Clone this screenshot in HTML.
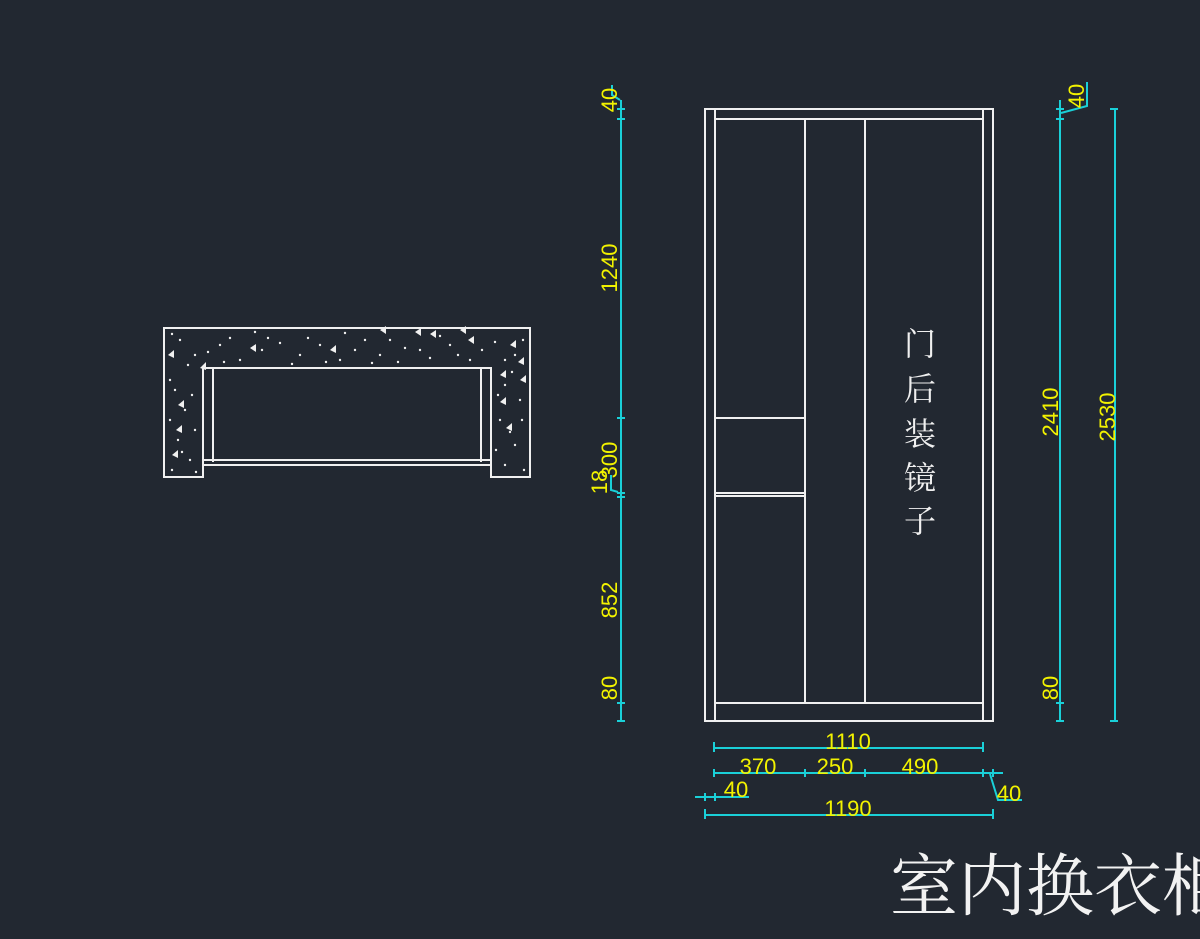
<!DOCTYPE html>
<html><head><meta charset="utf-8"><style>
html,body{margin:0;padding:0;background:#222831;overflow:hidden}
svg{display:block}
.w{stroke:#f0f0f0;stroke-width:2;fill:none}
.c{stroke:#1ad0d8;stroke-width:2;fill:none}
.t{fill:#f2f200;font-family:"Liberation Sans",sans-serif;font-size:22px}
</style></head><body>
<svg width="1200" height="939" viewBox="0 0 1200 939" xmlns="http://www.w3.org/2000/svg">
<rect width="1200" height="939" fill="#222831"/>
<!-- plan view -->
<path class="w" d="M164,328 H530 V477 H491 V368 H203 V477 H164 Z"/>
<path class="w" d="M213,368 V462 M481,368 V462 M203,460 H491 M203,465 H491"/>
<g fill="#f0f0f0">
<circle cx="180" cy="340" r="1.2"/><circle cx="195" cy="355" r="1.2"/><circle cx="220" cy="345" r="1.2"/><circle cx="240" cy="360" r="1.2"/><circle cx="262" cy="350" r="1.2"/><circle cx="280" cy="343" r="1.2"/><circle cx="300" cy="355" r="1.2"/><circle cx="320" cy="345" r="1.2"/><circle cx="340" cy="360" r="1.2"/><circle cx="365" cy="340" r="1.2"/><circle cx="380" cy="355" r="1.2"/><circle cx="405" cy="348" r="1.2"/><circle cx="430" cy="358" r="1.2"/><circle cx="450" cy="345" r="1.2"/><circle cx="470" cy="360" r="1.2"/><circle cx="495" cy="342" r="1.2"/><circle cx="515" cy="355" r="1.2"/><circle cx="175" cy="390" r="1.2"/><circle cx="185" cy="410" r="1.2"/><circle cx="178" cy="440" r="1.2"/><circle cx="190" cy="460" r="1.2"/><circle cx="172" cy="470" r="1.2"/><circle cx="505" cy="385" r="1.2"/><circle cx="520" cy="400" r="1.2"/><circle cx="500" cy="420" r="1.2"/><circle cx="515" cy="445" r="1.2"/><circle cx="505" cy="465" r="1.2"/><circle cx="255" cy="332" r="1.2"/><circle cx="345" cy="333" r="1.2"/><circle cx="230" cy="338" r="1.2"/>
<circle cx="172" cy="334" r="1.2"/><circle cx="188" cy="365" r="1.2"/><circle cx="208" cy="352" r="1.2"/><circle cx="224" cy="362" r="1.2"/><circle cx="268" cy="338" r="1.2"/><circle cx="292" cy="364" r="1.2"/><circle cx="308" cy="338" r="1.2"/><circle cx="326" cy="362" r="1.2"/><circle cx="355" cy="350" r="1.2"/><circle cx="372" cy="363" r="1.2"/><circle cx="390" cy="340" r="1.2"/><circle cx="398" cy="362" r="1.2"/><circle cx="420" cy="350" r="1.2"/><circle cx="440" cy="336" r="1.2"/><circle cx="458" cy="355" r="1.2"/><circle cx="482" cy="350" r="1.2"/><circle cx="505" cy="360" r="1.2"/><circle cx="523" cy="340" r="1.2"/><circle cx="170" cy="380" r="1.2"/><circle cx="192" cy="395" r="1.2"/><circle cx="170" cy="420" r="1.2"/><circle cx="195" cy="430" r="1.2"/><circle cx="182" cy="452" r="1.2"/><circle cx="196" cy="472" r="1.2"/><circle cx="498" cy="395" r="1.2"/><circle cx="522" cy="420" r="1.2"/><circle cx="510" cy="432" r="1.2"/><circle cx="496" cy="450" r="1.2"/><circle cx="524" cy="470" r="1.2"/><circle cx="512" cy="372" r="1.2"/>
<polygon points="168,355 174,350 174,358"/><polygon points="250,348 256,344 256,352"/><polygon points="330,350 336,345 336,353"/><polygon points="415,332 421,328 421,336"/><polygon points="468,340 474,336 474,344"/><polygon points="510,345 516,340 516,348"/><polygon points="178,405 184,400 184,408"/><polygon points="172,455 178,450 178,458"/><polygon points="500,402 506,397 506,405"/><polygon points="520,380 526,375 526,383"/><polygon points="500,375 506,370 506,378"/>
<polygon points="200,368 206,362 206,370"/><polygon points="380,330 386,326 386,334"/><polygon points="430,334 436,330 436,338"/><polygon points="460,330 466,326 466,334"/><polygon points="176,430 182,425 182,433"/><polygon points="518,362 524,357 524,365"/><polygon points="506,428 512,423 512,431"/>
</g>
<!-- elevation -->
<path class="w" d="M705,109 H993 V721 H705 Z M715,109 V721 M983,109 V721 M715,119 H983 M715,703 H983 M805,119 V703 M865,119 V703 M715,418 H805 M715,493 H805 M715,496 H805"/>
<g fill="#f0f0f0" font-family="'Liberation Serif','Noto Serif CJK SC',serif" font-size="32" text-anchor="middle">
<text x="920" y="355">门</text><text x="920" y="400">后</text><text x="920" y="445">装</text><text x="920" y="489">镜</text><text x="920" y="532">子</text>
</g>
<!-- left vertical dims -->
<path class="c" d="M621,100 V721 M617,109 H625 M617,119 H625 M617,418 H625 M617,493 H625 M617,497 H625 M617,703 H625 M617,721 H625 M612,85 V95 L620,100 M611,475 L611,490 L618,492"/>
<g class="t" text-anchor="middle">
<text transform="translate(617,100) rotate(-90)">40</text>
<text transform="translate(617,268) rotate(-90)">1240</text>
<text transform="translate(617,460) rotate(-90)">300</text>
<text transform="translate(607,482) rotate(-90)">18</text>
<text transform="translate(617,600) rotate(-90)">852</text>
<text transform="translate(617,688) rotate(-90)">80</text>
</g>
<!-- right vertical dims -->
<path class="c" d="M1060,100 V721 M1056,109 H1064 M1056,119 H1064 M1056,703 H1064 M1056,721 H1064 M1061,113 L1087,106 V82 M1115,109 V721 M1110,109 H1118 M1110,721 H1118"/>
<g class="t" text-anchor="middle">
<text transform="translate(1084,96) rotate(-90)">40</text>
<text transform="translate(1058,412) rotate(-90)">2410</text>
<text transform="translate(1115,417) rotate(-90)">2530</text>
<text transform="translate(1058,688) rotate(-90)">80</text>
</g>
<!-- bottom dims -->
<path class="c" d="M714,748 H983 M714,742 V752 M983,742 V752 M714,773 H1003 M714,769 V777 M805,769 V777 M865,769 V777 M983,769 V777 M993,769 V777 M990,774 L998,800 H1022 M695,797 H749 M705,793 V801 M715,793 V801 M705,815 H993 M705,809 V819 M993,809 V819"/>
<g class="t" text-anchor="middle">
<text x="848" y="749">1110</text>
<text x="758" y="774">370</text>
<text x="835" y="774">250</text>
<text x="920" y="774">490</text>
<text x="736" y="797">40</text>
<text x="1009" y="801">40</text>
<text x="848" y="816">1190</text>
</g>
<text x="890" y="910" fill="#f2f2f2" font-family="'Liberation Serif','Noto Serif CJK SC',serif" font-size="68">室内换衣柜</text>
</svg>
</body></html>
